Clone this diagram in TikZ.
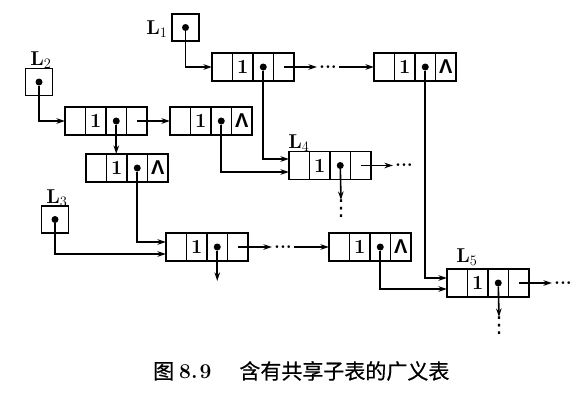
\documentclass[tikz,border=0pt]{standalone}
\usepackage{fontspec}
\newfontfamily\cjk[FakeBold=0.6]{Noto Sans CJK SC}
\newfontfamily\sfg{Liberation Sans}
\newfontfamily\djv{DejaVu Sans}
\usetikzlibrary{arrows.meta,calc}
\tikzset{
  cell/.style={draw, line width=1.9pt, minimum width=20.5pt, minimum height=28pt,
    inner sep=0pt, outer sep=0pt, font=\bfseries\fontsize{20}{20}\selectfont},
  hbox/.style={draw, line width=1.9pt, minimum size=27pt, inner sep=0pt, outer sep=0pt},
  ptr/.style={circle, fill, inner sep=0pt, minimum size=7pt},
  link/.style={line width=1.6pt, -{Stealth[length=8.5pt,width=5.5pt]}},
  lab/.style={font=\bfseries\fontsize{20}{20}\selectfont, inner sep=0pt},
  hdots/.style={font=\bfseries\fontsize{19}{19}\selectfont, inner sep=2pt},
  vdotsn/.style={font=\djv\fontsize{22}{22}\selectfont, inner sep=0pt},
}
\newcommand\nil{{\sfg Λ}}
\newcommand\listnode[5]{%
  \node[cell, anchor=west] (#1a) at (#2,#3) {};
  \node[cell, anchor=west] (#1b) at (#1a.east) {#4};
  \node[cell, anchor=west] (#1c) at (#1b.east) {};
  \node[cell, anchor=west] (#1d) at (#1c.east) {#5};
  \node[ptr] (#1p) at (#1c.center) {};
}
\begin{document}
\begin{tikzpicture}[x=1pt,y=-1pt]
\useasboundingbox (0,0) rectangle (584,410);
% head nodes
\node[hbox] (L1) at (185.5,27.5) {};
\node[ptr] (L1p) at (L1.center) {};
\node[lab] (L1lab) at (157,29) {L$_1$};
\node[hbox] (L2) at (39,82) {};
\node[ptr] (L2p) at (L2.center) {};
\node[lab] (L2lab) at (41,60) {L$_2$};
\node[hbox] (L3) at (55,219.5) {};
\node[ptr] (L3p) at (L3.center) {};
\node[lab] (L3lab) at (57,198) {L$_3$};
% list nodes
\listnode{A}{212}{67}{1}{}
\listnode{B}{374}{67}{1}{\nil}
\listnode{C}{65}{121}{1}{}
\listnode{D}{170}{121}{1}{\nil}
\listnode{E}{86}{168}{1}{\nil}
\listnode{G}{289}{165.5}{1}{}
\listnode{F}{166}{247}{1}{}
\listnode{H}{329}{247}{1}{\nil}
\listnode{I}{447}{283}{1}{}
\node[lab] (L4lab) at (299,143) {L$_4$};
\node[lab] (L5lab) at (467,257) {L$_5$};
% dots
\node[hdots] (dA) at (328,67) {...};
\node[hdots] (dF) at (283,247) {...};
\node[hdots] (dG) at (404,165.5) {...};
\node[hdots] (dI) at (563,283) {...};
\node[vdotsn] (vG) at (341,209) {⋮};
\node[vdotsn] (vI) at (499,326) {⋮};
\coordinate (Fdown) at (Fp |- 0,281);
% connectors
\draw[link] (L1p) |- (Aa.west);
\draw[link] (Ad.center) -- (dA.west);
\draw[link] (dA.east) -- (Ba.west);
\draw[link] (L2p) |- (Ca.west);
\draw[link] (Cd.center) -- (Da.west);
\draw[link] (Cp) -- (Cp |- Eb.north);
\draw[link] (Ap) |- ($(Ga.west)+(0,-6.5)$);
\draw[link] (Dp) |- ($(Ga.west)+(0,6.5)$);
\draw[link] (Gd.center) -- (dG.west);
\draw[link] (Gp) -- (vG.north);
\draw[link] (Ep) |- ($(Fa.west)+(0,-5)$);
\draw[link] (L3p) |- ($(Fa.west)+(0,7)$);
\draw[link] (Fp) -- (Fdown);
\draw[link] (Fd.center) -- (dF.west);
\draw[link] (dF.east) -- (Ha.west);
\draw[link] (Bp) |- ($(Ia.west)+(0,-5)$);
\draw[link] (Hp) |- ($(Ia.west)+(0,6)$);
\draw[link] (Id.center) -- (dI.west);
\draw[link] (Ip) -- (vI.north);
% caption
\node[anchor=west, inner sep=0pt, font=\fontsize{21}{21}\selectfont] (cap) at (153,371)
  {{\cjk 图}\hspace{5pt}\textbf{8.\hspace{2pt}9}\hspace{28pt}{\cjk 含有共享子表的广义表}};
\end{tikzpicture}
\end{document}
